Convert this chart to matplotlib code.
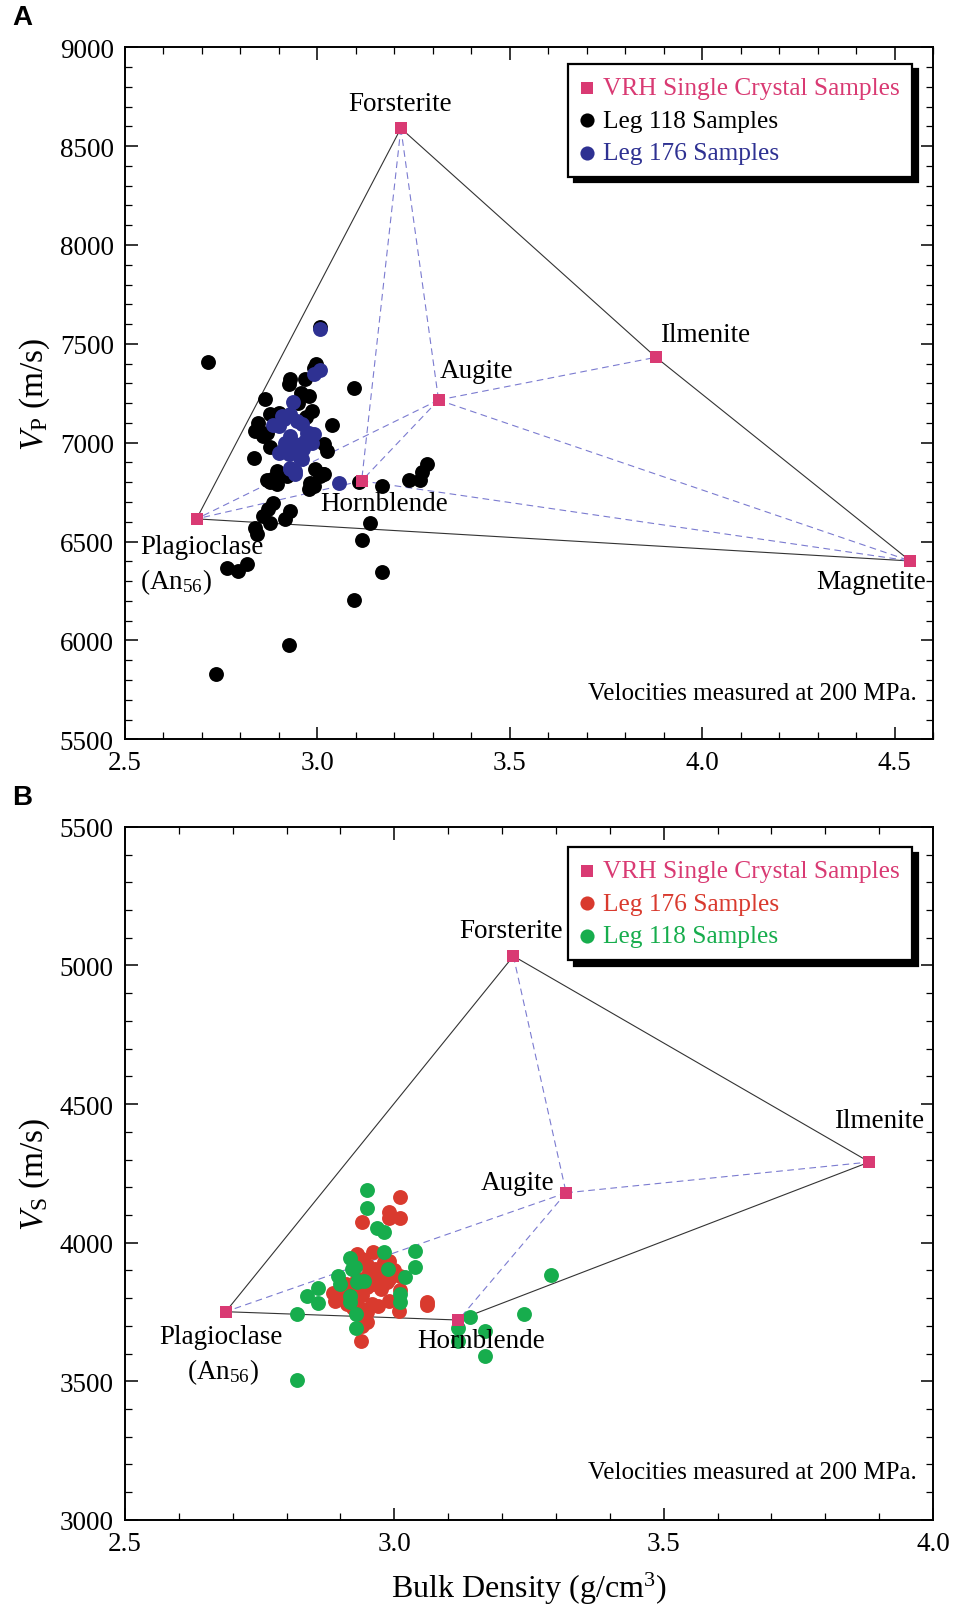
import matplotlib
matplotlib.use("Agg")
import matplotlib.pyplot as plt
from matplotlib.ticker import MultipleLocator

plt.rcParams['font.family'] = ['Liberation Serif', 'DejaVu Serif']
plt.rcParams['mathtext.fontset'] = 'custom'
plt.rcParams['mathtext.rm'] = 'Liberation Serif'
plt.rcParams['mathtext.it'] = 'Liberation Serif:italic'

# ---------------- data ----------------
minerals_a = ["Forsterite", "Ilmenite", "Augite", "Hornblende", "Plagioclase", "Magnetite"]
min_rho_a = [3.217, 3.880, 3.315, 3.115, 2.686, 4.541]
min_vp_a = [8590, 7432, 7216, 6807, 6615, 6402]

minerals_b = ["Forsterite", "Ilmenite", "Augite", "Hornblende", "Plagioclase"]
min_rho_b = [3.221, 3.882, 3.319, 3.119, 2.687]
min_vs_b = [5034, 4291, 4180, 3721, 3751]

solid_edges_a = [("Plagioclase", "Forsterite"), ("Forsterite", "Ilmenite"),
                 ("Ilmenite", "Magnetite"), ("Magnetite", "Plagioclase")]
dashed_edges_a = [("Forsterite", "Augite"), ("Forsterite", "Hornblende"),
                  ("Augite", "Ilmenite"), ("Augite", "Magnetite"),
                  ("Augite", "Hornblende"), ("Augite", "Plagioclase"),
                  ("Hornblende", "Plagioclase"), ("Hornblende", "Magnetite")]
solid_edges_b = [("Plagioclase", "Forsterite"), ("Forsterite", "Ilmenite"),
                 ("Ilmenite", "Hornblende"), ("Hornblende", "Plagioclase")]
dashed_edges_b = [("Forsterite", "Augite"), ("Augite", "Ilmenite"),
                  ("Augite", "Plagioclase"), ("Augite", "Hornblende")]

# Panel A: Leg 118 (black)
leg118_rho_a = [2.715, 2.736, 2.927, 3.096, 3.168, 3.117, 3.137, 3.168, 3.107,
                3.237, 3.267, 3.272, 3.285, 2.981, 2.977, 3.007, 3.015, 2.877, 2.895,
                2.886, 2.873, 2.860, 2.838, 2.843, 2.877, 2.929, 2.916,
                2.764, 2.795, 2.817,
                3.007, 2.996, 2.968, 2.927, 2.958, 2.977, 2.864, 2.877, 2.986, 2.847,
                2.838, 2.860, 3.038, 2.877, 3.016, 2.836, 3.025, 2.895, 2.882, 2.994,
                3.016, 2.868, 3.094, 2.990, 2.950, 2.900, 2.870, 2.990, 2.920, 2.970, 2.930]
leg118_vp_a = [7409, 5828, 5977, 6204, 6348, 6508, 6596, 6781, 6801,
               6810, 6810, 6850, 6891, 6798, 6765, 6832, 6840, 6800, 6790,
               6697, 6663, 6629, 6571, 6537, 6596, 6655, 6613,
               6368, 6351, 6385,
               7583, 7400, 7321, 7299, 7249, 7237, 7220, 7144, 7161, 7102,
               7060, 7034, 7090, 6979, 6992, 6921, 6958, 6857, 6815, 6866,
               6840, 6810, 7279, 7380, 7200, 7150, 7050, 6780, 6830, 7130, 7320]

# Panel A: Leg 176 (blue)
leg176_rho_a = [3.007, 3.007, 2.990, 2.936, 2.907, 2.929, 2.946, 2.960, 2.886, 2.929,
                2.916, 2.977, 2.990, 2.986, 2.968, 2.907, 2.925, 2.955, 2.960, 2.929,
                2.942, 3.055, 2.899, 2.942, 2.963, 2.899, 2.955, 2.929, 2.942, 2.912, 2.973]
leg176_vp_a = [7574, 7367, 7346, 7206, 7135, 7144, 7110, 7093, 7090, 7034,
               7001, 7051, 7043, 7001, 7009, 6958, 6942, 6933, 6916, 6874,
               6857, 6798, 7085, 6992, 6967, 6950, 6925, 6866, 6840, 7119, 7051]

# Panel B: Leg 176 (red)
leg176_rho_b = [3.010, 2.990, 2.990, 3.010, 2.940,
                2.930, 2.960, 2.980, 2.990, 2.940, 2.950,
                2.950, 2.955, 2.970, 2.980, 2.990, 3.000, 3.010,
                2.890, 2.887, 2.900, 2.912, 2.924, 2.910, 2.920,
                2.930, 2.940, 2.950, 2.960, 2.975, 2.986, 2.990, 3.008, 3.010,
                2.958, 2.949, 2.949, 2.938, 2.940, 3.060, 3.060, 2.940, 2.970, 2.930, 2.965]
leg176_vs_b = [4165, 4110, 4090, 4090, 4075,
               3960, 3965, 3930, 3935, 3940, 3920,
               3880, 3855, 3880, 3855, 3870, 3900, 3880,
               3790, 3820, 3820, 3780, 3765, 3850, 3830,
               3800, 3810, 3840, 3850, 3833, 3857, 3790, 3755, 3830,
               3780, 3750, 3713, 3645, 3700, 3785, 3775, 3760, 3770, 3870, 3905]

# Panel B: Leg 118 (green)
leg118_rho_b = [2.949, 2.949, 2.968, 2.980, 2.980, 3.039, 3.039, 3.020, 2.989,
                2.918, 2.927, 2.921, 2.933, 2.943, 2.896, 2.899, 2.859, 2.838, 2.859,
                2.819, 2.819, 2.918, 2.918, 2.929, 2.929, 3.011, 3.011, 2.930,
                3.140, 3.119, 3.169, 3.169, 3.240, 3.290, 3.119]
leg118_vs_b = [4190, 4125, 4052, 4040, 3965, 3971, 3911, 3875, 3905,
               3943, 3911, 3905, 3863, 3863, 3881, 3851, 3836, 3808, 3782,
               3742, 3505, 3809, 3785, 3743, 3691, 3815, 3785, 3857,
               3733, 3691, 3682, 3592, 3742, 3882, 3645]

PINK = '#D93A73'
BLUE = '#2E3192'
RED = '#D93A2E'
GREEN = '#17AD4D'
DASH = '#7B7BD0'

fig = plt.figure(figsize=(9.54, 16.06), dpi=100)
axA = fig.add_axes([0.131, 0.539, 0.847, 0.431])
axB = fig.add_axes([0.131, 0.053, 0.847, 0.4315])

TICK_FS = 19.5
LABEL_FS = 19.5
LEG_FS = 18.3
DOT_S = 115


def style_axes(ax):
    for s in ax.spines.values():
        s.set_linewidth(1.4)
    ax.tick_params(which='both', direction='in', top=True, right=True,
                   labelsize=TICK_FS, pad=8)
    ax.tick_params(which='major', length=9, width=1.1)
    ax.tick_params(which='minor', length=5, width=0.9)
    ax.xaxis.set_major_formatter(matplotlib.ticker.FormatStrFormatter('%.1f'))


def draw_edges(ax, names, xs, ys, solid, dashed):
    idx = {n: i for i, n in enumerate(names)}
    for a, b in solid:
        ax.plot([xs[idx[a]], xs[idx[b]]], [ys[idx[a]], ys[idx[b]]],
                color='#333333', lw=0.8, zorder=1)
    for a, b in dashed:
        ax.plot([xs[idx[a]], xs[idx[b]]], [ys[idx[a]], ys[idx[b]]],
                color=DASH, lw=0.8, ls=(0, (6, 4)), zorder=1)


def make_legend(ax, handles, colors, anchor):
    leg = ax.legend(handles=handles, loc='upper right',
                    bbox_to_anchor=anchor, fontsize=LEG_FS,
                    frameon=True, fancybox=False, edgecolor='black',
                    shadow={'color': 'black', 'alpha': 1.0, 'ox': 4, 'oy': -4},
                    handlelength=0.5, handletextpad=0.35, borderpad=0.5,
                    labelspacing=0.38, markerscale=0.95, borderaxespad=0)
    leg.get_frame().set_linewidth(1.6)
    for t, c in zip(leg.get_texts(), colors):
        t.set_color(c)
    return leg


# ---------------- Panel A ----------------
draw_edges(axA, minerals_a, min_rho_a, min_vp_a, solid_edges_a, dashed_edges_a)
h1 = axA.scatter(leg118_rho_a, leg118_vp_a, s=DOT_S, color='black', zorder=3,
                 linewidths=0, label='Leg 118 Samples')
h2 = axA.scatter(leg176_rho_a, leg176_vp_a, s=DOT_S, color=BLUE, zorder=4,
                 linewidths=0, label='Leg 176 Samples')
h0 = axA.scatter(min_rho_a, min_vp_a, s=80, marker='s', color=PINK, zorder=5,
                 linewidths=0, label='VRH Single Crystal Samples')
axA.set_xlim(2.5, 4.6)
axA.set_ylim(5500, 9000)
axA.xaxis.set_major_locator(MultipleLocator(0.5))
axA.xaxis.set_minor_locator(MultipleLocator(0.1))
axA.yaxis.set_major_locator(MultipleLocator(500))
axA.yaxis.set_minor_locator(MultipleLocator(100))
style_axes(axA)
axA.set_ylabel(r'$V_\mathrm{P}$ (m/s)', fontsize=24, labelpad=6)

axA.text(3.215, 8715, 'Forsterite', fontsize=LABEL_FS, ha='center', va='center')
axA.text(4.008, 7549, 'Ilmenite', fontsize=LABEL_FS, ha='center', va='center')
axA.text(3.414, 7367, 'Augite', fontsize=LABEL_FS, ha='center', va='center')
axA.text(3.174, 6693, 'Hornblende', fontsize=LABEL_FS, ha='center', va='center',
         zorder=6)
axA.text(2.540, 6476, 'Plagioclase', fontsize=LABEL_FS, ha='left', va='center',
         zorder=6)
axA.text(2.540, 6300, r'(An$_{56}$)', fontsize=LABEL_FS, ha='left', va='center')
axA.text(4.440, 6299, 'Magnetite', fontsize=LABEL_FS, ha='center', va='center')
axA.text(0.980, 0.067, 'Velocities measured at 200 MPa.', fontsize=18,
         ha='right', va='center', transform=axA.transAxes)

make_legend(axA, [h0, h1, h2], [PINK, 'black', BLUE], (0.974, 0.976))

# ---------------- Panel B ----------------
draw_edges(axB, minerals_b, min_rho_b, min_vs_b, solid_edges_b, dashed_edges_b)
g1 = axB.scatter(leg176_rho_b, leg176_vs_b, s=DOT_S, color=RED, zorder=3,
                 linewidths=0, label='Leg 176 Samples')
g2 = axB.scatter(leg118_rho_b, leg118_vs_b, s=DOT_S, color=GREEN, zorder=4,
                 linewidths=0, label='Leg 118 Samples')
g0 = axB.scatter(min_rho_b, min_vs_b, s=80, marker='s', color=PINK, zorder=5,
                 linewidths=0, label='VRH Single Crystal Samples')
axB.set_xlim(2.5, 4.0)
axB.set_ylim(3000, 5500)
axB.xaxis.set_major_locator(MultipleLocator(0.5))
axB.xaxis.set_minor_locator(MultipleLocator(0.1))
axB.yaxis.set_major_locator(MultipleLocator(500))
axB.yaxis.set_minor_locator(MultipleLocator(100))
style_axes(axB)
axB.set_ylabel(r'$V_\mathrm{S}$ (m/s)', fontsize=24, labelpad=6)
axB.set_xlabel(r'Bulk Density (g/cm$^3$)', fontsize=23, labelpad=10)

axB.text(3.216, 5126, 'Forsterite', fontsize=LABEL_FS, ha='center', va='center')
axB.text(3.899, 4442, 'Ilmenite', fontsize=LABEL_FS, ha='center', va='center')
axB.text(3.229, 4217, 'Augite', fontsize=LABEL_FS, ha='center', va='center')
axB.text(3.162, 3647, 'Hornblende', fontsize=LABEL_FS, ha='center', va='center',
         zorder=6)
axB.text(2.563, 3662, 'Plagioclase', fontsize=LABEL_FS, ha='left', va='center')
axB.text(2.616, 3535, r'(An$_{56}$)', fontsize=LABEL_FS, ha='left', va='center')
axB.text(0.980, 0.069, 'Velocities measured at 200 MPa.', fontsize=18,
         ha='right', va='center', transform=axB.transAxes)

make_legend(axB, [g0, g1, g2], [PINK, RED, GREEN], (0.974, 0.971))

fig.text(0.023, 0.989, 'A', fontsize=20, fontweight='bold', ha='center',
         va='center', family=['Liberation Sans', 'DejaVu Sans'])
fig.text(0.023, 0.503, 'B', fontsize=20, fontweight='bold', ha='center',
         va='center', family=['Liberation Sans', 'DejaVu Sans'])

fig.savefig('out.png', dpi=100)
